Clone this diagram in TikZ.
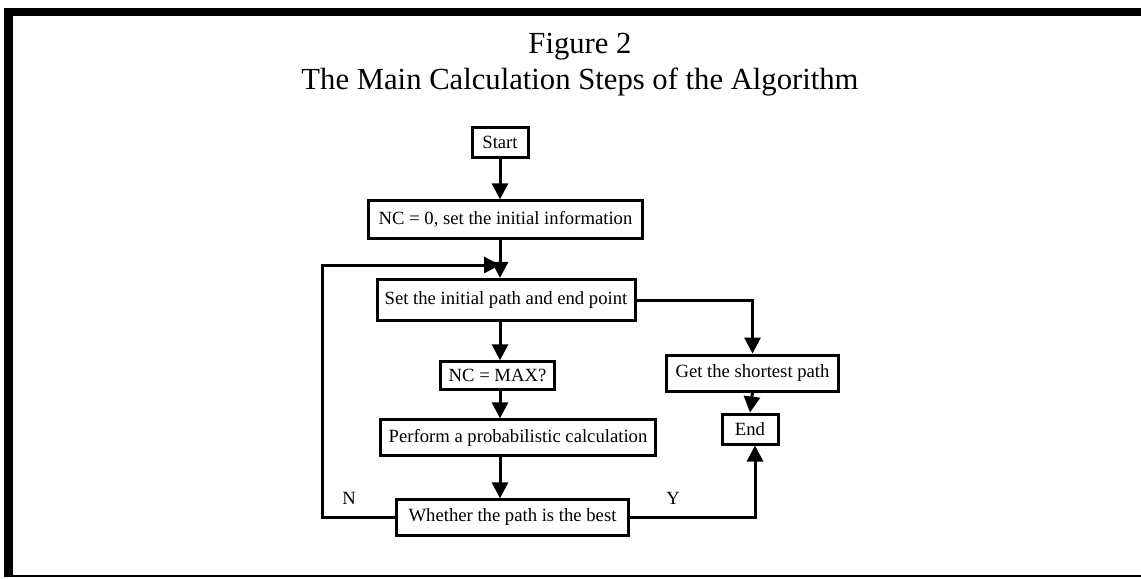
\documentclass[tikz,border=0pt]{standalone}
\usepackage{fontspec}
\setmainfont{Liberation Serif}
\usetikzlibrary{arrows.meta}

\begin{document}
\begin{tikzpicture}[x=0.75pt, y=-0.75pt,
  block/.style={rectangle, draw, line width=2.25pt, inner sep=0pt, text centered, font=\fontsize{14}{16}\selectfont},
  line/.style={line width=2.25pt, -{Triangle[length=12pt,width=12pt]}},
  branch/.style={font=\fontsize{14}{16}\selectfont}]
\useasboundingbox (0,0) rectangle (1141,578);

% frame
\fill (4,8) rectangle (1141,16);
\fill (4,8) rectangle (13,577);
\fill (4,575) rectangle (1141,577);

% title
\node [font=\fontsize{23}{27}\selectfont] (figno) at (580,47) {Figure 2};
\node [font=\fontsize{23}{27}\selectfont] (title) at (580,82) {The Main Calculation Steps of the Algorithm};

\node [block, minimum width=42pt, minimum height=22.5pt] (start) at (500,142) {Start};
\node [block, minimum width=205pt, minimum height=28pt] (nczero) at (505.5,219.5) {NC = 0, set the initial information};
\node [block, minimum width=193.5pt, minimum height=31pt] (setpath) at (506,300) {Set the initial path and end point};
\node [block, minimum width=86pt, minimum height=20.5pt] (ncmax) at (497.5,375.5) {NC = MAX?};
\node [block, minimum width=206pt, minimum height=26.5pt] (perform) at (518,437.5) {Perform a probabilistic calculation};
\node [block, minimum width=174pt, minimum height=26.5pt] (best) at (512.5,517.5) {Whether the path is the best};
\node [block, minimum width=129pt, minimum height=27pt] (shortest) at (752.5,373) {Get the shortest path};
\node [block, minimum width=42pt, minimum height=22.5pt] (finish) at (750,429) {End};

\node [branch] (no) at (349,498) {N};
\node [branch] (yes) at (673,498) {Y};

\coordinate (spine) at (500,0);
\coordinate (loopcorner) at (322,265);
\coordinate (loopin) at (500,265);

\draw [line] (start.south) -- (spine |- nczero.north);
\draw [line] (spine |- nczero.south) -- (spine |- setpath.north);
\draw [line] (spine |- setpath.south) -- (spine |- ncmax.north);
\draw [line] (spine |- ncmax.south) -- (spine |- perform.north);
\draw [line] (spine |- perform.south) -- (spine |- best.north);
\draw [line] (best.west) -| (loopcorner) -- (loopin);
\draw [line] (setpath.east) -| (shortest.north);
\draw [line] (shortest.south) -- (finish.north);
\draw [line] (best.east) -| ([xshift=3.75pt]finish.south);

\end{tikzpicture}
\end{document}
